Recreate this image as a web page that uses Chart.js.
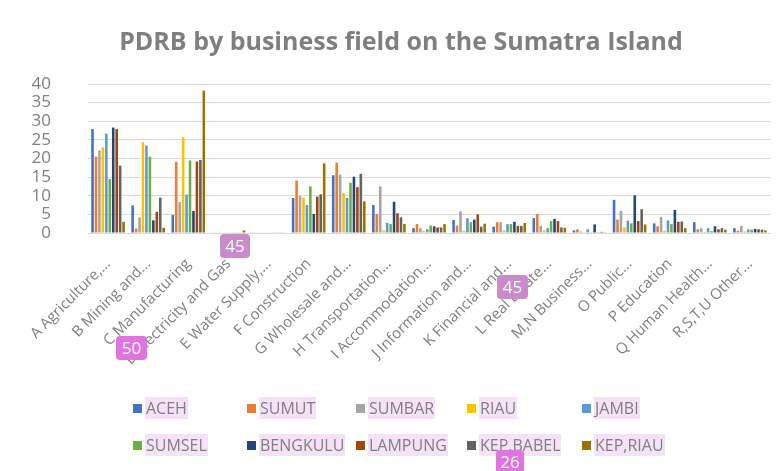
<!DOCTYPE html>
<html>
<head>
<meta charset="utf-8">
<script src="https://cdn.jsdelivr.net/npm/chart.js@4.4.1/dist/chart.umd.min.js"></script>
<style>
  html, body { margin: 0; padding: 0; background: #fff; }
  #wrap { position: relative; width: 784px; height: 471px; font-family: "Open Sans", sans-serif; }
  #legend { position: absolute; left: 133px; top: 397px; display: grid;
    grid-template-columns: 114px 109px 111px 115px 110px; row-gap: 15px; }
  .item { display: flex; align-items: center; font-size: 16px; color: #7f7f7f; white-space: nowrap; }
  .box { width: 9px; height: 9px; margin-right: 3px; }
  .txt { background: rgba(236, 190, 236, 0.45); padding: 0 1px; }
  .badge { position: absolute; color: #fff; font-size: 17px; border-radius: 4px;
    text-align: center; line-height: 24px; height: 24px; }
</style>
</head>
<body>
<div id="wrap">
  <canvas id="pdrbChart" width="784" height="471"></canvas>
  <div id="legend"></div>
  <div class="badge" style="left:220px;top:234px;width:30px;background:#c98bc9;">45</div>
  <div class="badge" style="left:116px;top:336px;width:31px;background:#e274e2;">50</div>
  <div class="badge" style="left:497px;top:275px;width:31px;background:#c98bc9;">45</div>
  <div class="badge" style="left:496px;top:450px;width:28px;background:#e274e2;">26</div>
</div>
<script>
const title = "PDRB by business field on the Sumatra Island";

const fields = [
  "A Agriculture,...", "B Mining and...", "C Manufacturing", "D Electricity and Gas",
  "E Water Supply,...", "F Construction", "G Wholesale and...", "H Transportation...",
  "I Accommodation...", "J Information and...", "K Financial and...", "L Real Estate...",
  "M,N Business...", "O Public...", "P Education", "Q Human Health...", "R,S,T,U Other..."
];

const provinces = ["ACEH", "SUMUT", "SUMBAR", "RIAU", "JAMBI",
  "SUMSEL", "BENGKULU", "LAMPUNG", "KEP,BABEL", "KEP,RIAU"];

const colors = ["#4472c4", "#ed7d31", "#a5a5a5", "#ffc000", "#5b9bd5",
  "#70ad47", "#264478", "#9e480e", "#636363", "#997300"];

// one array per province, in the order of fields
const aceh     = [27.9, 7.4, 4.8, 0.1, 0.1, 9.4, 15.5, 7.5, 1.3, 3.5, 1.7, 4.0, 0.7, 8.9, 2.6, 2.9, 1.3];
const sumut    = [20.5, 1.2, 19.1, 0.1, 0.1, 14.1, 18.9, 5.1, 2.4, 2.0, 2.9, 5.1, 1.0, 3.6, 1.8, 1.0, 0.6];
const sumbar   = [22.2, 4.2, 8.3, 0.1, 0.1, 10.0, 15.7, 12.5, 1.3, 5.8, 2.9, 1.9, 0.4, 6.0, 4.3, 1.3, 1.9];
const riau     = [23.0, 24.4, 25.7, 0.1, 0.1, 9.5, 10.7, 0.7, 0.6, 0.6, 0.7, 0.7, 0.2, 1.5, 0.6, 0.3, 0.4];
const jambi    = [26.7, 23.5, 10.3, 0.1, 0.1, 7.5, 9.4, 2.7, 1.0, 4.0, 2.4, 1.3, 1.0, 3.3, 3.4, 1.3, 1.0];
const sumsel   = [14.5, 20.5, 19.5, 0.1, 0.1, 12.5, 13.5, 2.4, 2.0, 2.9, 2.4, 3.2, 0.2, 2.6, 2.4, 0.5, 0.9];
const bengkulu = [28.3, 3.4, 5.9, 0.1, 0.1, 5.1, 15.1, 8.4, 1.8, 3.6, 3.0, 3.8, 2.3, 10.1, 6.2, 1.8, 1.1];
const lampung  = [27.9, 5.7, 19.2, 0.1, 0.1, 9.8, 12.3, 5.3, 1.5, 5.0, 1.9, 3.2, 0.2, 3.2, 3.0, 1.0, 1.0];
const kepBabel = [18.1, 9.5, 19.6, 0.1, 0.1, 10.4, 15.9, 4.2, 1.5, 1.7, 1.9, 1.5, 0.3, 6.4, 3.1, 1.3, 0.9];
const kepRiau  = [3.0, 1.4, 38.2, 0.7, 0.1, 18.7, 8.5, 2.4, 2.4, 2.5, 2.7, 1.4, 0.2, 2.3, 1.3, 0.9, 0.7];

const series = [aceh, sumut, sumbar, riau, jambi, sumsel, bengkulu, lampung, kepBabel, kepRiau];

const yTicks = [0, 5, 10, 15, 20, 25, 30, 35, 40];

const grey = "#7f7f7f";

const datasets = provinces.map((name, i) => ({
  label: name,
  data: series[i],
  backgroundColor: colors[i],
  categoryPercentage: 0.86,
  barPercentage: 0.75,
}));

// html legend, 5 per row like the original
const legendEl = document.getElementById("legend");
provinces.forEach((name, i) => {
  const item = document.createElement("div");
  item.className = "item";
  item.innerHTML = '<span class="box" style="background:' + colors[i] + '"></span><span class="txt">' + name + "</span>";
  legendEl.appendChild(item);
});

new Chart(document.getElementById("pdrbChart"), {
  type: "bar",
  data: { labels: fields, datasets },
  options: {
    responsive: false,
    animation: false,
    layout: { padding: { left: 32, right: 14, top: 0, bottom: 0 } },
    plugins: {
      legend: { display: false },
      tooltip: { enabled: false },
      title: {
        display: true,
        text: title,
        color: grey,
        font: { family: "Open Sans", size: 25, weight: "bold" },
        padding: { top: 28, bottom: 26 },
      },
    },
    scales: {
      x: {
        grid: { display: false },
        border: { color: "#d9d9d9" },
        ticks: {
          color: grey,
          font: { family: "Open Sans", size: 15 },
          maxRotation: 45,
          minRotation: 45,
          autoSkip: false,
          padding: 14,
        },
        afterFit: (scale) => { scale.height = 238; },
      },
      y: {
        min: 0,
        max: 40,
        afterBuildTicks: (scale) => { scale.ticks = yTicks.map((v) => ({ value: v })); },
        grid: { color: "#d9d9d9", drawTicks: false },
        border: { display: false },
        ticks: {
          color: grey,
          font: { family: "Open Sans", size: 17 },
          padding: 37,
          autoSkip: false,
        },
        afterFit: (scale) => { scale.width = 56; },
      },
    },
  },
});
</script>
</body>
</html>
